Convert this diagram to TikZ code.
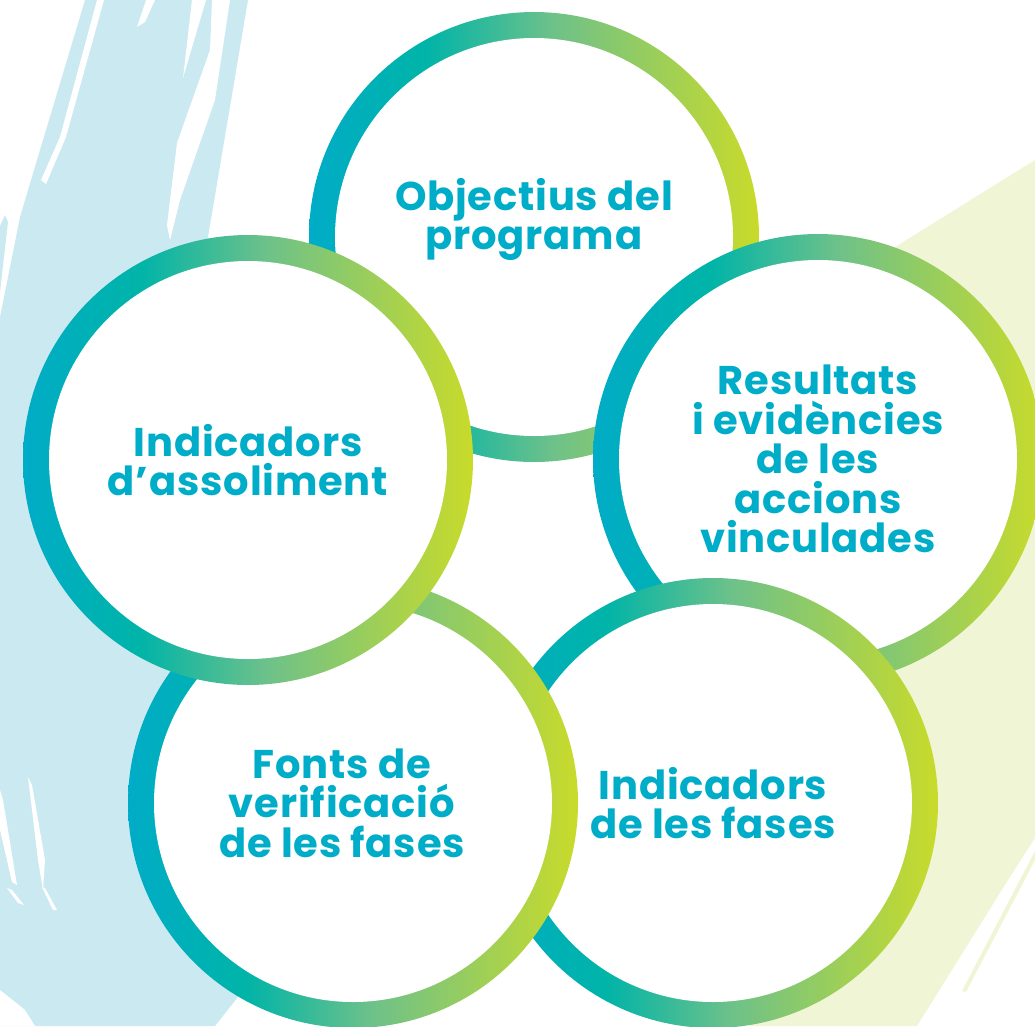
\documentclass[tikz,border=0pt]{standalone}
\usepackage{fontspec}
\setmainfont{Poppins}[LetterSpace=2]
\definecolor{ringa}{HTML}{00ACC7}
\definecolor{ringb}{HTML}{00B4A8}
\definecolor{ringc}{HTML}{6DC18A}
\definecolor{ringd}{HTML}{C9DB2A}
\definecolor{txtblue}{HTML}{00ADC9}
\definecolor{bgblue}{HTML}{CBE9F0}
\definecolor{bggreen}{HTML}{F0F5D5}
\pgfdeclarehorizontalshading{ringgrad}{100bp}{color(0bp)=(ringa); color(25bp)=(ringa); color(38bp)=(ringb); color(52bp)=(ringc); color(75bp)=(ringd); color(100bp)=(ringd)}

\begin{document}
\begin{tikzpicture}[x=0.1mm,y=-0.1mm]
        \tikzstyle{ring}=[circle,inner sep=0pt,minimum size=45mm,shade,shading=ringgrad,
          path picture={\fill[white] (path picture bounding box.center) circle (19.9mm);}]
        \tikzstyle{phrase}=[align=center,inner sep=0pt,text=txtblue,font=\bfseries\fontsize{11.4}{11.2}\selectfont]
        \useasboundingbox (0,0) rectangle (1035,1026);
        \clip (0,0) rectangle (1035,1026);
       \begin{scope}
         % brush strokes behind
         \fill[bgblue] (85,0) -- (248,0) -- (208,237) -- (300,500) -- (330,700) -- (238,997) -- (215,1026) -- (0,1026) -- (0,317) -- (20,217) -- (40,150) -- cycle;
         \fill[bgblue] (0,226) -- (5,215) -- (8,222) -- (0,292) -- cycle;
         \fill[white] (97,0) -- (104,0) -- (66,137) -- (46,184) -- (41,180) -- (60,137) -- cycle;
         \fill[white] (146,0) -- (155,0) -- (145,22) -- (137,27) -- cycle;
         \fill[white] (192,0) -- (206,0) -- (183,78) -- cycle;
         \fill[white] (212,0) -- (230,0) -- (215,100) -- (180,200) -- (170,240) -- (167,225) -- (177,143) -- (210,50) -- cycle;
         \fill[white] (28,777) -- (32,785) -- (45,860) -- (43,890) -- (38,860) -- cycle;
         \fill[white] (0,790) -- (3,800) -- (17,885) -- (12,882) -- (0,830) -- cycle;
         \fill[white] (7,888) -- (12,890) -- (24,905) -- (18,903) -- cycle;
         \fill[white] (42,887) -- (45,888) -- (57,910) -- (53,910) -- cycle;
         \fill[white] (0,990) -- (25,1010) -- (35,1026) -- (0,1026) -- cycle;
         \fill[bggreen] (1035,160) -- (895,247) -- (750,1026) -- (917,1026) -- (1008,880) -- (1035,838) -- cycle;
         \fill[bggreen] (1035,851) -- (1035,860) -- (966,992) -- (962,991) -- cycle;
       \end{scope}
       \begin{scope}
         \node [ring] (obj) at (534,237) {};
         \node [ring] (res) at (818,459) {};
         \node [ring] (ifas) at (713,803) {};
         \node [ring] (fver) at (353,803) {};
         \node [ring] (iass) at (248,460) {};

         \node [phrase] (objtxt) at ([yshift=1.75mm]obj.center) {Objectius del\\programa};
         \node [phrase] (restxt) at (res.center) {Resultats\\i evidències\\de les\\accions\\vinculades};
         \node [phrase] (ifastxt) at (ifas.center) {Indicadors\\de les fases};
         \node [phrase] (fvertxt) at ([xshift=-1.1mm]fver.center) {Fonts de\\verificació\\de les fases};
         \node [phrase] (iasstxt) at (iass.center) {Indicadors\\d’assoliment};
       \end{scope}
      \end{tikzpicture}
\end{document}
